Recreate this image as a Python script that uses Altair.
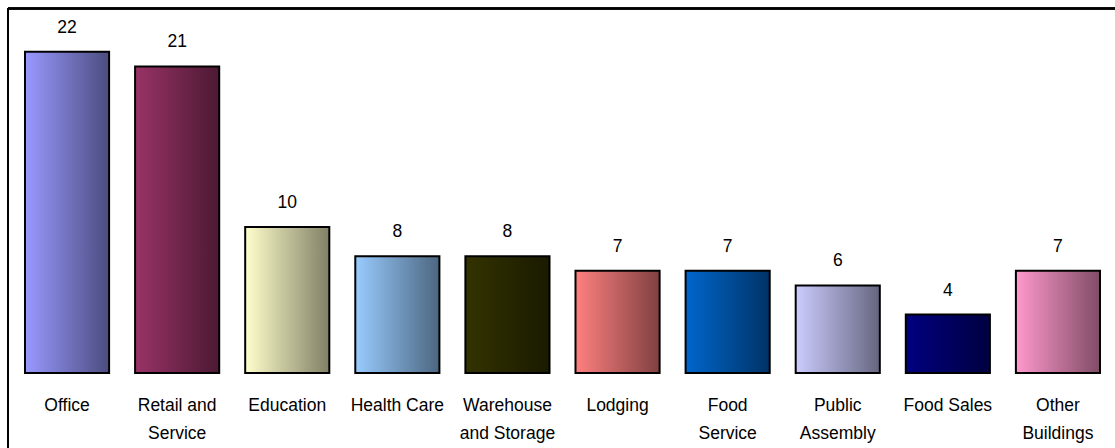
import altair as alt
import pandas as pd

# Building types and their share (percent)
categories = [
    "Office", "Retail and\nService", "Education", "Health Care",
    "Warehouse\nand Storage", "Lodging", "Food\nService",
    "Public\nAssembly", "Food Sales", "Other\nBuildings",
]
values = [22, 21, 10, 8, 8, 7, 7, 6, 4, 7]

# Gradient palette: light edge on the left, dark edge on the right
light_colors = ["#9999FF", "#993366", "#FFFFCC", "#99CCFF", "#333300",
                "#FF8080", "#0066CC", "#CCCCFF", "#000080", "#FF99CC"]
dark_colors = ["#4C4C80", "#4C1933", "#808066", "#4C6680", "#1A1A00",
               "#804040", "#003366", "#666680", "#000040", "#804C66"]

df = pd.DataFrame({"idx": list(range(len(categories))),
                   "category": categories, "value": values})

FONT = "Liberation Sans"
FONT_SIZE = 17.5

x_enc = alt.X(
    "category:N",
    sort=None,
    scale=alt.Scale(domain=categories, paddingInner=0.236, paddingOuter=0.118),
    axis=alt.Axis(
        title=None, domain=False, ticks=False, labelAngle=0,
        labelExpr="split(datum.label, '\\n')",
        labelFont=FONT, labelFontSize=FONT_SIZE, labelColor="black",
        labelPadding=23, labelLineHeight=28, labelBaseline="top",
    ),
)
y_enc = alt.Y(
    "value:Q",
    scale=alt.Scale(domain=[0, 25.55], nice=False),
    axis=None,
)

base = alt.Chart(df)

layers = []
for i in range(len(categories)):
    grad = alt.Gradient(
        gradient="linear",
        stops=[alt.GradientStop(color=light_colors[i], offset=0),
               alt.GradientStop(color=dark_colors[i], offset=1)],
        x1=0, x2=1, y1=0, y2=0,
    )
    layers.append(
        base.transform_filter(alt.datum.idx == i)
        .mark_bar(color=grad, stroke="black", strokeWidth=2)
        .encode(x=x_enc, y=y_enc)
    )

labels = base.mark_text(
    baseline="bottom", dy=-15, font=FONT, fontSize=FONT_SIZE, color="black"
).encode(x=x_enc, y=y_enc, text=alt.Text("value:Q"))

# Chart frame (top and left edges)
frame_top = base.mark_rule(color="black", strokeWidth=1.5).encode(
    x=alt.value(-4), x2=alt.value(1110), y=alt.value(8.5)
)
frame_left = base.mark_rule(color="black", strokeWidth=1.5).encode(
    x=alt.value(-4), y=alt.value(8.5), y2=alt.value(460)
)

chart = alt.layer(*layers, labels, frame_top, frame_left).properties(
    width=1101, height=373,
    autosize=alt.AutoSizeParams(type="none"),
    padding={"left": 12, "top": 0, "right": 2, "bottom": 75},
    background="white",
).configure_view(stroke=None)

chart.save("out.html", embed_options={"renderer": "svg", "actions": False})
